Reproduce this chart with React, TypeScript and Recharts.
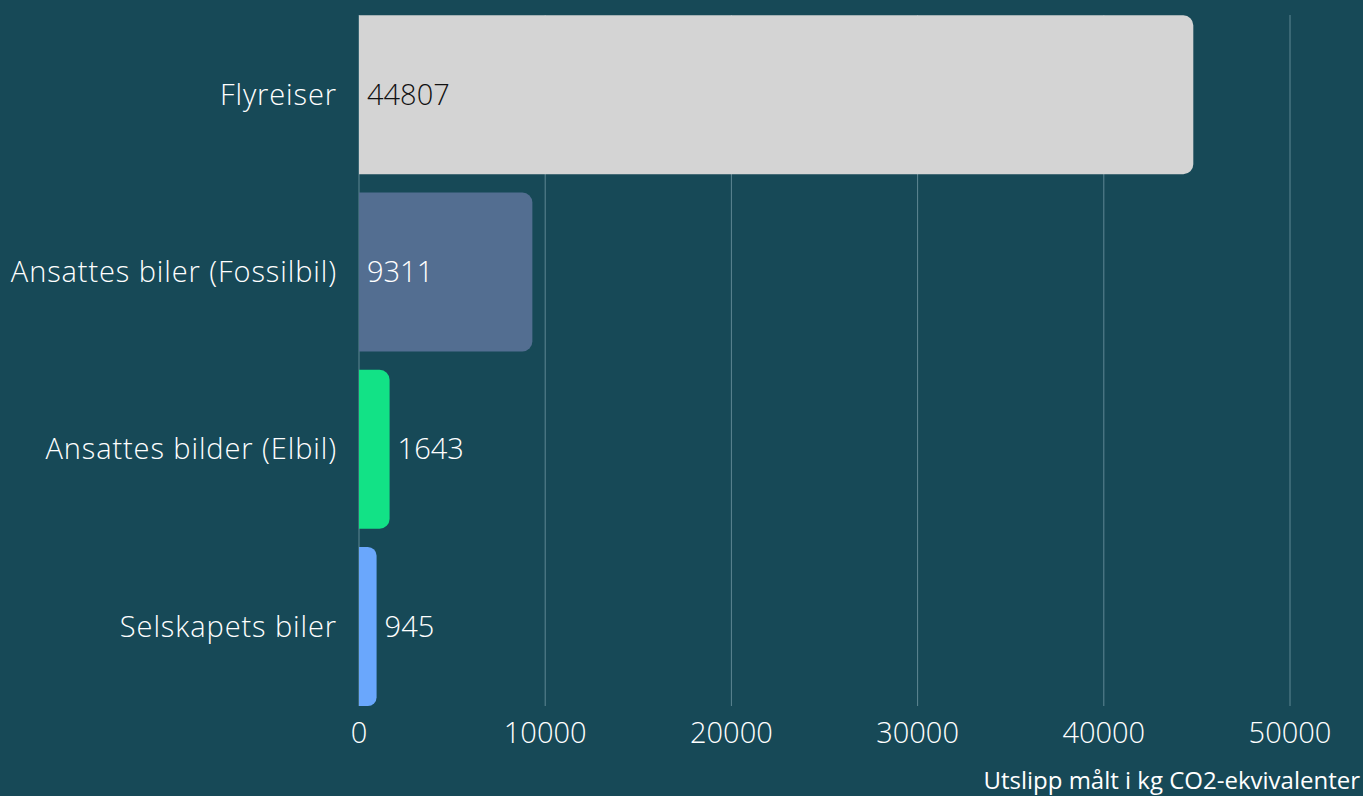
import { BarChart, Bar, XAxis, YAxis, CartesianGrid, Cell, LabelList } from 'recharts';

const categories = ['Flyreiser', 'Ansattes biler (Fossilbil)', 'Ansattes bilder (Elbil)', 'Selskapets biler'];
const values = [44807, 9311, 1643, 945];
const barColors = ['#d4d4d4', '#536e91', '#12e286', '#6aa7fc'];
const labelColors = ['#111111', '#ffffff', '#ffffff', '#ffffff'];
const xTicks = [0, 10000, 20000, 30000, 40000, 50000];

const data = categories.map((name, i) => ({ name, value: values[i] }));

const BG = '#174957';
const FONT = '"Open Sans", Lato, sans-serif';
const FS = 29;

// values big enough sit inside the bar, small ones go to the right
function ValueLabel(props: any) {
  const { x, y, width, height, value, index } = props;
  const inside = width > 100;
  const tx = inside ? x + 8 : x + width + 8;
  return (
    <text
      x={tx}
      y={y + height / 2}
      dy="0.35em"
      fill={inside ? labelColors[index] : '#ffffff'}
      fontSize={FS}
      fontFamily={FONT}
      fontWeight={300}
    >
      {value}
    </text>
  );
}

export default function App() {
  return (
    <div style={{ position: 'fixed', left: 0, top: 0, width: 1363, height: 796, background: BG }}>
      <BarChart
        width={1363}
        height={796}
        data={data}
        layout="vertical"
        margin={{ top: 15, right: 73, bottom: 0, left: 0 }}
        barCategoryGap="5.2%"
      >
        <CartesianGrid horizontal={false} stroke="#5f8793" strokeWidth={1} />
        <XAxis
          type="number"
          domain={[0, 50000]}
          ticks={xTicks}
          axisLine={false}
          tickLine={false}
          height={90}
          tickMargin={10}
          tick={{ fill: '#ffffff', fontSize: FS, fontFamily: FONT, fontWeight: 300 }}
        />
        <YAxis
          type="category"
          dataKey="name"
          width={359}
          axisLine={false}
          tickLine={false}
          tickMargin={16}
          padding={{ top: -9, bottom: -9 }}
          tick={{ fill: '#ffffff', fontSize: FS, fontFamily: FONT, fontWeight: 300, letterSpacing: 0.9 }}
        />
        <Bar dataKey="value" radius={[0, 10, 10, 0]} isAnimationActive={false}>
          {data.map((d, i) => (
            <Cell key={d.name} fill={barColors[i]} />
          ))}
          <LabelList dataKey="value" content={<ValueLabel />} />
        </Bar>
      </BarChart>
      <div
        style={{
          position: 'absolute',
          right: 3,
          top: 764,
          color: '#ffffff',
          fontFamily: '"Open Sans", sans-serif',
          fontSize: 24,
          lineHeight: '32px',
        }}
      >
        Utslipp målt i kg CO2-ekvivalenter
      </div>
    </div>
  );
}
